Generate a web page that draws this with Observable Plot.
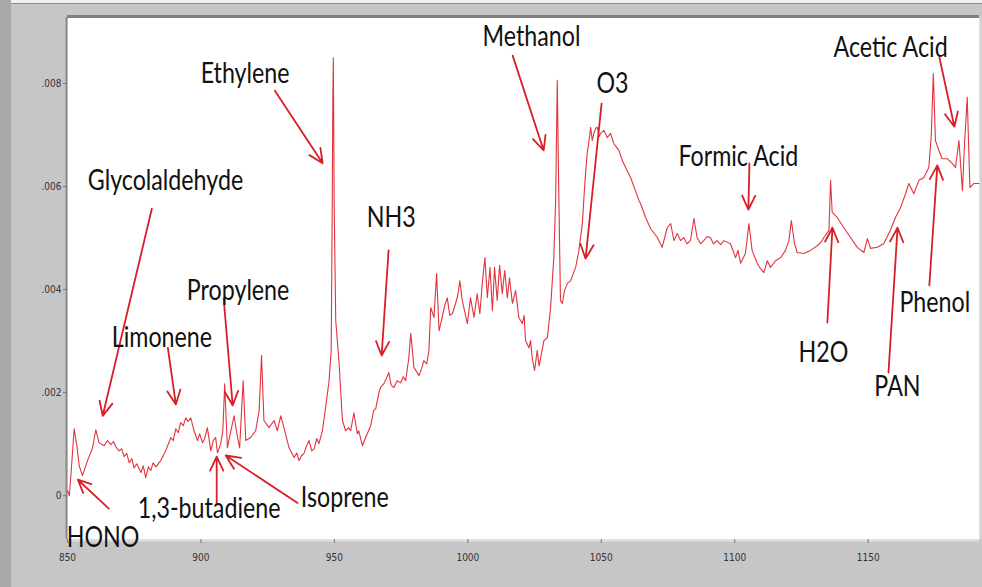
<!DOCTYPE html>
<html>
<head>
<meta charset="utf-8">
<script src="https://cdn.jsdelivr.net/npm/d3@7"></script>
<script src="https://cdn.jsdelivr.net/npm/@observablehq/plot@0.6"></script>
<style>
  html, body { margin: 0; padding: 0; background: #c6c6c6; }
  #chart { width: 982px; height: 587px; }
</style>
</head>
<body>
<div id="chart"></div>
<script>
// ---- spectrum (wavenumber cm-1, absorbance) ----
const wavenumber = [
 850.0,850.7,851.4,852.5,853.5,854.4,855.6,857.5,859.4,860.6,861.8,863.7,865.0,866.2,867.3,868.1,869.3,870.3,871.2,872.2,
 873.1,874.1,874.9,876.0,877.5,878.4,879.3,880.3,881.2,882.1,883.1,884.9,885.9,886.8,888.7,889.6,890.6,891.5,892.4,893.4,
 894.3,895.2,896.2,897.4,898.7,899.5,900.6,901.4,902.4,903.7,904.6,905.5,906.2,907.4,908.2,908.9,909.9,911.2,912.4,913.7,
 914.5,915.8,916.8,918.6,920.5,921.8,922.7,923.6,925.5,927.4,928.6,929.9,931.1,933.0,934.9,935.9,936.7,937.7,938.6,939.6,
 940.5,941.5,942.4,943.4,944.2,945.5,946.7,948.0,948.8,949.2,949.4,949.6,949.9,950.5,951.7,953.0,954.2,955.3,956.1,957.3,
 958.6,959.1,960.5,961.7,962.8,963.6,964.7,965.5,966.6,967.3,968.5,969.4,970.4,971.3,972.3,973.5,974.8,975.8,976.7,977.9,
 978.6,979.8,981.7,982.7,983.5,984.6,985.4,986.1,987.3,988.3,989.2,990.4,991.3,992.3,993.2,994.2,995.4,996.2,997.0,997.9,
 998.5,999.8,1001.0,1002.3,1003.5,1004.5,1005.4,1006.4,1007.3,1008.3,1009.2,1010.0,1011.0,1011.9,1012.9,1013.8,1014.8,1015.6,1016.7,1017.9,
 1019.1,1020.4,1021.1,1021.6,1022.9,1023.5,1024.1,1025.0,1026.0,1026.7,1027.3,1028.5,1029.8,1031.0,1032.2,1032.9,1033.5,1034.0,1034.7,1035.4,
 1036.2,1037.3,1038.5,1040.4,1041.6,1042.9,1043.5,1044.1,1044.7,1045.4,1046.0,1046.6,1047.2,1047.9,1048.5,1049.2,1049.7,1051.0,1052.2,1053.5,
 1054.7,1056.6,1057.9,1059.1,1061.0,1062.8,1064.1,1064.7,1066.6,1068.5,1071.0,1072.8,1074.7,1076.0,1077.2,1078.5,1079.7,1080.9,1082.1,1083.4,
 1084.7,1085.9,1087.2,1088.4,1089.6,1090.9,1092.0,1093.4,1094.7,1095.9,1098.4,1100.3,1101.2,1102.2,1104.0,1105.3,1106.5,1108.4,1109.6,1110.9,
 1112.2,1113.4,1115.3,1117.2,1119.0,1120.3,1121.2,1122.4,1123.4,1125.9,1128.4,1130.9,1132.2,1133.4,1135.3,1135.9,1136.5,1138.4,1140.9,1143.4,
 1145.9,1148.4,1149.7,1150.9,1153.4,1155.8,1158.3,1160.2,1162.1,1164.0,1165.2,1167.1,1169.0,1170.8,1172.7,1173.6,1174.4,1175.2,1176.5,1177.7,
 1179.6,1181.5,1182.7,1184.0,1185.3,1186.1,1187.1,1188.1,1189.6,1191.5
];
const absorbance = [
 0.00010,0.00000,0.00049,0.00130,0.00097,0.00058,0.00039,0.00068,0.00093,0.00128,0.00103,0.00097,0.00107,0.00099,0.00105,0.00095,0.00087,0.00091,0.00076,0.00082,
 0.00064,0.00072,0.00054,0.00062,0.00045,0.00058,0.00035,0.00056,0.00049,0.00064,0.00056,0.00068,0.00078,0.00087,0.00113,0.00107,0.00130,0.00122,0.00142,0.00136,
 0.00151,0.00144,0.00151,0.00126,0.00107,0.00120,0.00103,0.00111,0.00132,0.00087,0.00107,0.00113,0.00083,0.00101,0.00126,0.00217,0.00093,0.00126,0.00155,0.00113,
 0.00093,0.00223,0.00107,0.00113,0.00126,0.00165,0.00272,0.00146,0.00132,0.00146,0.00126,0.00155,0.00132,0.00093,0.00074,0.00083,0.00068,0.00078,0.00082,0.00097,
 0.00107,0.00087,0.00091,0.00111,0.00101,0.00126,0.00171,0.00223,0.00282,0.00573,0.00767,0.00850,0.00573,0.00340,0.00262,0.00146,0.00126,0.00132,0.00126,0.00161,
 0.00120,0.00126,0.00097,0.00113,0.00126,0.00136,0.00165,0.00169,0.00198,0.00210,0.00217,0.00227,0.00239,0.00214,0.00210,0.00223,0.00219,0.00231,0.00223,0.00268,
 0.00315,0.00249,0.00233,0.00247,0.00262,0.00256,0.00282,0.00365,0.00346,0.00431,0.00320,0.00346,0.00369,0.00384,0.00350,0.00353,0.00373,0.00388,0.00417,0.00379,
 0.00365,0.00334,0.00384,0.00346,0.00392,0.00353,0.00412,0.00462,0.00384,0.00443,0.00359,0.00443,0.00379,0.00447,0.00392,0.00437,0.00384,0.00423,0.00373,0.00398,
 0.00346,0.00334,0.00350,0.00301,0.00287,0.00301,0.00268,0.00243,0.00282,0.00252,0.00268,0.00301,0.00307,0.00365,0.00462,0.00573,0.00806,0.00612,0.00379,0.00373,
 0.00398,0.00412,0.00417,0.00443,0.00476,0.00528,0.00579,0.00625,0.00664,0.00689,0.00715,0.00689,0.00703,0.00713,0.00715,0.00697,0.00703,0.00709,0.00695,0.00703,
 0.00683,0.00670,0.00650,0.00637,0.00617,0.00592,0.00573,0.00567,0.00540,0.00518,0.00501,0.00482,0.00520,0.00528,0.00495,0.00509,0.00495,0.00501,0.00489,0.00495,
 0.00538,0.00501,0.00489,0.00495,0.00503,0.00501,0.00489,0.00495,0.00487,0.00495,0.00489,0.00462,0.00476,0.00451,0.00470,0.00528,0.00476,0.00451,0.00441,0.00433,
 0.00456,0.00443,0.00456,0.00462,0.00476,0.00495,0.00534,0.00489,0.00472,0.00470,0.00476,0.00485,0.00491,0.00501,0.00515,0.00612,0.00550,0.00540,0.00520,0.00501,
 0.00482,0.00472,0.00499,0.00480,0.00482,0.00489,0.00515,0.00540,0.00559,0.00586,0.00606,0.00586,0.00612,0.00617,0.00637,0.00695,0.00819,0.00689,0.00670,0.00654,
 0.00654,0.00645,0.00637,0.00689,0.00592,0.00683,0.00773,0.00598,0.00606,0.00606
];

// ---- annotations ----
const labels     = ["Ethylene","Glycolaldehyde","Limonene","Propylene","HONO","1,3-butadiene","Isoprene","NH3","Methanol","O3","Formic Acid","Acetic Acid","H2O","PAN","Phenol"];
const labelX     = [899.9, 857.6, 866.6, 894.7, 849.7, 876.3, 937.4, 962.1, 1005.5, 1048.2, 1078.9, 1137.0, 1123.9, 1152.3, 1161.7];
const labelY     = [0.00819, 0.00610, 0.00305, 0.00398, -0.00083, -0.00025, -0.00004, 0.00538, 0.00891, 0.00798, 0.00658, 0.00868, 0.00276, 0.00210, 0.00373];
const arrowFromX = [927.7, 881.6, 887.6, 908.5, 865.5, 905.9, 936.2, 970.3, 1016.8, 1050.1, 1105.5, 1176.7, 1134.7, 1157.6, 1172.9];
const arrowFromY = [0.00786, 0.00557, 0.00287, 0.00383, -0.00025, -0.00016, -0.00014, 0.00476, 0.00854, 0.00761, 0.00645, 0.00850, 0.00336, 0.00239, 0.00408];
const arrowToX   = [945.6, 863.2, 890.6, 911.9, 853.9, 905.9, 909.3, 967.7, 1028.4, 1044.1, 1105.1, 1182.3, 1136.6, 1161.0, 1175.9];
const arrowToY   = [0.00645, 0.00155, 0.00177, 0.00175, 0.00031, 0.00076, 0.00078, 0.00272, 0.00670, 0.00460, 0.00555, 0.00716, 0.00520, 0.00520, 0.00641];

// ---- axes ----
const xTicks = [850, 900, 950, 1000, 1050, 1100, 1150];
const yTicks = [0, 0.002, 0.004, 0.006, 0.008];
const yTickLabels = ["0", ".002", ".004", ".006", ".008"];
const xDomain = [850, 1191.7];
const yDomain = [-0.00085, 0.00928];

const spectrum = wavenumber.map((w, i) => ({w, a: absorbance[i]}));
const notes = labels.map((t, i) => ({t, lx: labelX[i], ly: labelY[i], x1: arrowFromX[i], y1: arrowFromY[i], x2: arrowToX[i], y2: arrowToY[i]}));

const tickFont = "'DejaVu Sans Condensed', 'Liberation Sans', sans-serif";
const noteFont = "Lato, 'Open Sans', sans-serif";

const chart = Plot.plot({
  width: 982,
  height: 587,
  marginLeft: 67,
  marginRight: 3,
  marginTop: 17,
  marginBottom: 48,
  x: {domain: xDomain},
  y: {domain: yDomain},
  style: "background: linear-gradient(to right, #a9a9a9 0 11px, transparent 11px), linear-gradient(to bottom, #f2f2f2 0 3px, #8c8c8c 3px 4px, #c6c6c6 4px); font-family: " + tickFont + "; font-size: 10px; color: #444; overflow: visible;",
  marks: [
    Plot.frame({fill: "white", stroke: "none"}),
    Plot.ruleY([yDomain[1]], {stroke: "#808080", strokeWidth: 3, dy: -1}),
    Plot.ruleY([yDomain[0]], {stroke: "#dedede", strokeWidth: 2, dy: 1}),
    Plot.ruleX([xDomain[0]], {stroke: "#8a8a8a", strokeWidth: 2, dx: -1}),
    Plot.ruleX([xDomain[1]], {stroke: "#dadada", strokeWidth: 2, dx: 1}),
    Plot.axisX({ticks: xTicks, tickSize: 4, tickPadding: 10, tickFormat: d => String(d), label: null, stroke: "#777", fill: "#333", fontSize: 10}),
    Plot.axisY({ticks: yTicks, tickSize: 4, tickPadding: 2, tickFormat: (d) => yTickLabels[yTicks.indexOf(d)], label: null, stroke: "#777", fill: "#333", fontSize: 10}),
    Plot.line(spectrum, {x: "w", y: "a", stroke: "#e2343e", strokeWidth: 1.1}),
    Plot.arrow(notes, {x1: "x1", y1: "y1", x2: "x2", y2: "y2", stroke: "#d81e26", strokeWidth: 1.8, headLength: 13, headAngle: 50, bend: false}),
    Plot.text(notes, {x: "lx", y: "ly", text: "t", textAnchor: "start", lineAnchor: "middle", fontSize: 28, fill: "#111", fontFamily: noteFont})
  ]
});
// narrow the annotation lettering horizontally (Calibri-like proportions)
chart.querySelectorAll("g[aria-label='text'] text").forEach(el => {
  let t = el.getAttribute("transform");
  if (!t) {
    const x = +(el.getAttribute("x") || 0), y = +(el.getAttribute("y") || 0);
    el.removeAttribute("x"); el.removeAttribute("y");
    t = `translate(${x},${y})`;
  }
  el.setAttribute("transform", t + " scale(0.83,1)");
});
document.getElementById("chart").appendChild(chart);
</script>
</body>
</html>
